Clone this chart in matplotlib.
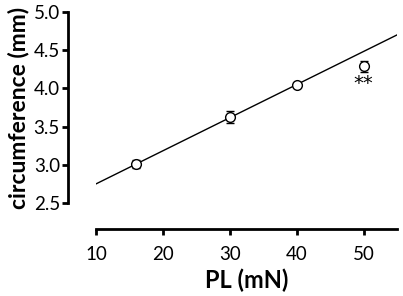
import numpy as np
import matplotlib.pyplot as plt

plt.rcParams['font.family'] = ['Lato', 'DejaVu Sans']

# data
pl = [16, 30, 40, 50]
circ = [3.01, 3.63, 4.04, 4.29]
circ_err = [0.05, 0.08, 0.02, 0.07]

# regression line end points
fit_x = [10, 55]
fit_y = [2.75, 4.70]

sig_x = 50
sig_y = 4.07
sig_label = '**'

xticks = [10, 20, 30, 40, 50]
yticks = [2.5, 3.0, 3.5, 4.0, 4.5, 5.0]

fig = plt.figure(figsize=(4.03, 2.96), dpi=100)
ax = fig.add_axes([96/403, (296-203)/296, (397-96)/403, (203-12)/296])

ax.plot(fit_x, fit_y, color='black', linewidth=1.0, zorder=1)
ax.errorbar(pl, circ, yerr=circ_err, fmt='o', color='black', ecolor='black',
            markerfacecolor='white', markeredgecolor='black', markersize=7,
            markeredgewidth=1.0, elinewidth=1.0, capsize=3, capthick=1.0, zorder=3)
ax.text(sig_x, sig_y, sig_label, ha='center', va='center', fontsize=14,
        family='DejaVu Sans')

ax.set_xlim(10, 55)
ax.set_ylim(2.5, 5.0)
ax.set_xticks(xticks)
ax.set_yticks(yticks)
ax.set_yticklabels([f'{v:.1f}' for v in yticks])

for side in ['top', 'right']:
    ax.spines[side].set_visible(False)
ax.spines['left'].set_position(('outward', 20))
ax.spines['bottom'].set_position(('outward', 19))
ax.spines['left'].set_bounds(2.5, 5.0)
ax.spines['bottom'].set_bounds(10, 55)
for side in ['left', 'bottom']:
    ax.spines[side].set_linewidth(2)
ax.tick_params(width=2, length=4, labelsize=13.5, direction='out')
ax.tick_params(axis='x', pad=8)
ax.tick_params(axis='y', pad=2)

ax.set_xlabel('PL (mN)', fontsize=17, fontweight='bold', labelpad=4)
ax.set_ylabel('circumference (mm)', fontsize=16.5, fontweight='bold', labelpad=3)

fig.savefig('out.png', dpi=100)
